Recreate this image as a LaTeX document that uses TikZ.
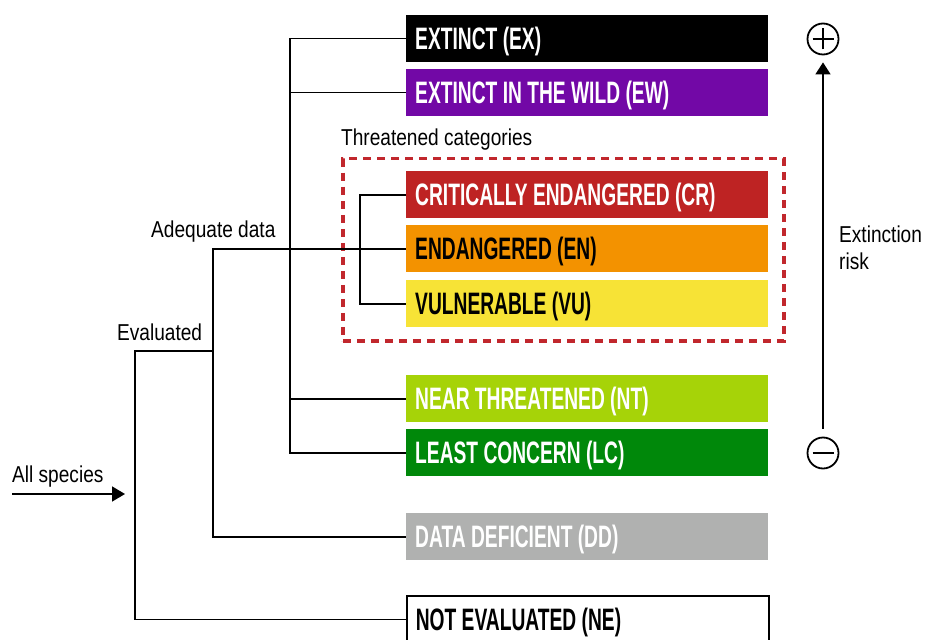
\documentclass[tikz,border=0pt]{standalone}
\usepackage{fontspec}
\usetikzlibrary{arrows.meta}
\newfontfamily\catfont[FakeStretch=0.62]{Liberation Sans Bold}
\newfontfamily\smfont[FakeStretch=0.83]{Liberation Sans}
\newcommand\catlabel[1]{\makebox[344pt][l]{#1}}
\definecolor{cEX}{RGB}{0,0,0}
\definecolor{cEW}{RGB}{114,8,166}
\definecolor{cCR}{RGB}{190,35,35}
\definecolor{cEN}{RGB}{243,146,0}
\definecolor{cVU}{RGB}{247,227,54}
\definecolor{cNT}{RGB}{166,211,8}
\definecolor{cLC}{RGB}{0,136,10}
\definecolor{cDD}{RGB}{176,177,176}
\definecolor{cThr}{RGB}{193,39,45}
\begin{document}
\begin{tikzpicture}[x=1pt,y=-1pt,
  cat/.style={rectangle, anchor=north west, minimum width=362pt, minimum height=47pt,
    inner xsep=9pt, inner ysep=0pt,
    font=\catfont\fontsize{31}{31}\selectfont, text height=22pt, text depth=0pt},
  conn/.style={line width=1.6pt, black},
  lbl/.style={font=\smfont\fontsize{23}{27}\selectfont, inner sep=0pt, anchor=base west},
  sign/.style={circle, draw, line width=1.8pt, minimum size=31pt, inner sep=0pt}]
\clip (0,0) rectangle (925,639);
% category boxes
\node[cat, fill=cEX, text=white] (ex) at (406,15) {\catlabel{EXTINCT (EX)}};
\node[cat, fill=cEW, text=white] (ew) at (406,69) {\catlabel{EXTINCT IN THE WILD (EW)}};
\node[cat, fill=cCR, text=white] (cr) at (406,171) {\catlabel{CRITICALLY ENDANGERED (CR)}};
\node[cat, fill=cEN, text=black] (en) at (406,225) {\catlabel{ENDANGERED (EN)}};
\node[cat, fill=cVU, text=black] (vu) at (406,280) {\catlabel{VULNERABLE (VU)}};
\node[cat, fill=cNT, text=white] (nt) at (406,375) {\catlabel{NEAR THREATENED (NT)}};
\node[cat, fill=cLC, text=white] (lc) at (406,429) {\catlabel{LEAST CONCERN (LC)}};
\node[cat, fill=cDD, text=white] (dd) at (406,513) {\catlabel{DATA DEFICIENT (DD)}};
\node[cat, fill=white, draw=black, line width=1.6pt, text=black] (ne) at (406,595) {\catlabel{NOT EVALUATED (NE)}};
% threatened frame
\node[draw=cThr, line width=3.5pt, dash pattern=on 8pt off 6pt, anchor=north west,
  minimum width=441pt, minimum height=182pt, inner sep=0pt] (thr) at (341,157) {};
% bracket coordinates
\coordinate (b1) at (290,0);
\coordinate (b2) at (213,0);
\coordinate (b3) at (360,0);
\coordinate (b4) at (135,0);
\coordinate (evj) at (213,351);
% connectors
\draw[conn] (ex.west) -- (ex.west -| b1) |- (lc.west);
\draw[conn] (ew.west) -- (ew.west -| b1);
\draw[conn] (nt.west) -- (nt.west -| b1);
\draw[conn] (en.west) -- (en.west -| b2) |- (dd.west);
\draw[conn] (cr.west) -- (cr.west -| b3) |- (vu.west);
\draw[conn] (evj) -- (evj -| b4) |- (ne.west);
% all species arrow
\coordinate (as0) at (12,494);
\coordinate (as1) at (125,494);
\draw[conn, -{Triangle[length=13pt,width=15pt]}] (as0) -- (as1);
% labels
\node[lbl] (lall) at (12,482) {All species};
\node[lbl] (leval) at (117,340) {Evaluated};
\node[lbl] (ladeq) at (151,237) {Adequate data};
\node[lbl] (lthr) at (341,146) {Threatened categories};
\node[lbl] (lext) at (839,242) {Extinction};
\node[lbl] (lrisk) at (839,269) {risk};
% extinction risk axis
\node[sign] (plus) at (823,39) {};
\node[sign] (minus) at (823,453) {};
\draw[line width=1.8pt] ([xshift=-10.5pt]plus.center) -- ([xshift=10.5pt]plus.center);
\draw[line width=1.8pt] ([yshift=-10.5pt]plus.center) -- ([yshift=10.5pt]plus.center);
\draw[line width=1.8pt] ([xshift=-10.5pt]minus.center) -- ([xshift=10.5pt]minus.center);
\draw[conn, -{Triangle[length=12pt,width=15pt]}] ([yshift=8pt]minus.north) -- ([yshift=-7pt]plus.south);
\end{tikzpicture}
\end{document}
